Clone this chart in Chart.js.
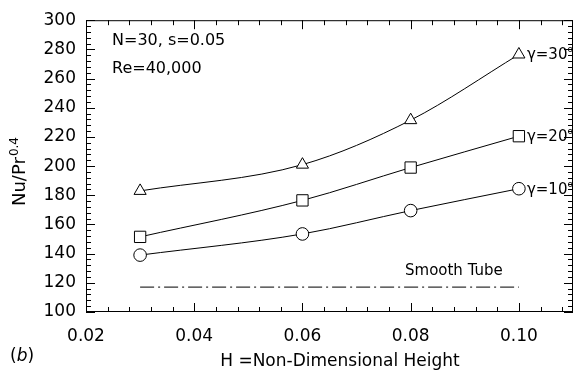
<!DOCTYPE html>
<html>
<head>
<meta charset="utf-8">
<script src="https://cdn.jsdelivr.net/npm/chart.js@4.4.0/dist/chart.umd.min.js"></script>
<style>
  html, body { margin: 0; padding: 0; background: #fff; }
  #wrap { width: 582px; height: 371px; position: relative; }
</style>
</head>
<body>
<div id="wrap"><canvas id="myChart"></canvas></div>
<script>
// datos
const heights = [0.03, 0.06, 0.08, 0.10];
const nuGamma30 = [183, 201, 231.5, 276.5];
const nuGamma20 = [151.5, 176.5, 199, 220.5];
const nuGamma10 = [139, 153.5, 169.5, 184.5];
const smoothTubeH = [0.03, 0.10];
const smoothTubeNu = [117, 117];
const seriesLabels = ['γ=30', 'γ=20', 'γ=10'];

const FONT = 'DejaVu Sans';

const toPoints = (xs, ys) => xs.map((x, i) => ({ x: x, y: ys[i] }));

const curveStyle = (values, style, radius) => ({
  data: toPoints(heights, values),
  borderColor: '#000',
  borderWidth: 1,
  pointStyle: style,
  pointRadius: radius,
  pointBorderColor: '#000',
  pointBorderWidth: 1,
  pointBackgroundColor: '#fff',
  cubicInterpolationMode: 'monotone',
  fill: false,
});

/* ticks hacia adentro, marco y textos */
const decorPlugin = {
  id: 'decor',
  beforeDatasetsDraw(chart) {
    const ctx = chart.ctx;
    const a = chart.chartArea;
    const xs = chart.scales.x;
    const ys = chart.scales.y;
    ctx.save();
    ctx.strokeStyle = '#000';
    ctx.lineWidth = 1;
    ctx.strokeRect(a.left + 0.5, a.top + 0.5, a.right - a.left - 1, a.bottom - a.top - 1);
    ctx.beginPath();
    for (let v = 100; v <= 300.001; v += 4) {
      const y = Math.round(ys.getPixelForValue(v)) + 0.5;
      const len = (Math.round(v) % 20 === 0) ? 9 : 5;
      ctx.moveTo(a.left, y); ctx.lineTo(a.left + len, y);
      ctx.moveTo(a.right, y); ctx.lineTo(a.right - len, y);
    }
    for (let i = 0; i <= 22; i++) {
      const v = 0.02 + i * 0.004;
      const x = Math.round(xs.getPixelForValue(v)) + 0.5;
      const len = (i % 5 === 0) ? 9 : 5;
      ctx.moveTo(x, a.bottom); ctx.lineTo(x, a.bottom - len);
      ctx.moveTo(x, a.top); ctx.lineTo(x, a.top + len);
    }
    ctx.stroke();
    ctx.restore();
  },
  afterDraw(chart) {
    const ctx = chart.ctx;
    const xs = chart.scales.x;
    const ys = chart.scales.y;
    ctx.save();
    ctx.fillStyle = '#000';
    ctx.textAlign = 'left';
    ctx.textBaseline = 'alphabetic';

    ctx.font = '16px ' + FONT;
    ctx.fillText('N=30, s=0.05', 112, 45);
    ctx.fillText('Re=40,000', 112, 73);

    ctx.font = '15px ' + FONT;
    ctx.fillText('Smooth Tube', 405, 275);

    // etiquetas gamma al final de cada curva
    const lastVals = [nuGamma30, nuGamma20, nuGamma10].map(s => s[s.length - 1]);
    lastVals.forEach((v, i) => {
      const px = xs.getPixelForValue(heights[heights.length - 1]) + 8;
      const py = ys.getPixelForValue(v) + 5;
      ctx.font = '15px ' + FONT;
      ctx.fillText(seriesLabels[i], px, py);
      const w = ctx.measureText(seriesLabels[i]).width;
      ctx.font = '9px ' + FONT;
      ctx.fillText('o', px + w, py - 7);
    });

    // titulo eje x
    ctx.font = '17px ' + FONT;
    ctx.textAlign = 'center';
    ctx.fillText('H =Non-Dimensional Height', 340, 366);

    // (b)
    ctx.textAlign = 'left';
    ctx.fillText('(', 10, 361);
    let w1 = ctx.measureText('(').width;
    ctx.font = 'italic 17px ' + FONT;
    ctx.fillText('b', 10 + w1, 361);
    let w2 = ctx.measureText('b').width;
    ctx.font = '17px ' + FONT;
    ctx.fillText(')', 10 + w1 + w2, 361);

    // titulo eje y con superindice
    ctx.translate(25, 206);
    ctx.rotate(-Math.PI / 2);
    ctx.font = '18px ' + FONT;
    ctx.fillText('Nu/Pr', 0, 0);
    const wm = ctx.measureText('Nu/Pr').width;
    ctx.font = '12px ' + FONT;
    ctx.fillText('0.4', wm + 1, -7);
    ctx.restore();
  }
};

const ctx = document.getElementById('myChart').getContext('2d');
const myChart = new Chart(ctx, {
  type: 'line',
  data: {
    datasets: [
      curveStyle(nuGamma30, 'triangle', 7),
      curveStyle(nuGamma20, 'rect', 8),
      curveStyle(nuGamma10, 'circle', 6.3),
      {
        data: toPoints(smoothTubeH, smoothTubeNu),
        borderColor: '#333',
        borderWidth: 1.2,
        borderDash: [14, 4, 2, 4],
        pointRadius: 0,
        fill: false,
      },
    ],
  },
  options: {
    responsive: true,
    maintainAspectRatio: false,
    animation: false,
    layout: { padding: { top: 15, right: 1, left: 0, bottom: 0 } },
    plugins: {
      legend: { display: false },
      tooltip: { enabled: false },
    },
    scales: {
      x: {
        type: 'linear',
        min: 0.02,
        max: 0.11,
        grid: { display: false, drawTicks: false },
        border: { display: false },
        ticks: {
          stepSize: 0.02,
          includeBounds: false,
          maxRotation: 0,
          padding: 14,
          color: '#000',
          font: { family: FONT, size: 17 },
          callback: (v) => v.toFixed(2),
        },
        afterFit: (scale) => { scale.height = 59; },
      },
      y: {
        min: 100,
        max: 300,
        grid: { display: false, drawTicks: false },
        border: { display: false },
        ticks: {
          stepSize: 20,
          padding: 10,
          color: '#000',
          font: { family: FONT, size: 17 },
        },
        afterFit: (scale) => { scale.width = 86; },
      },
    },
  },
  plugins: [decorPlugin],
});
</script>
</body>
</html>
